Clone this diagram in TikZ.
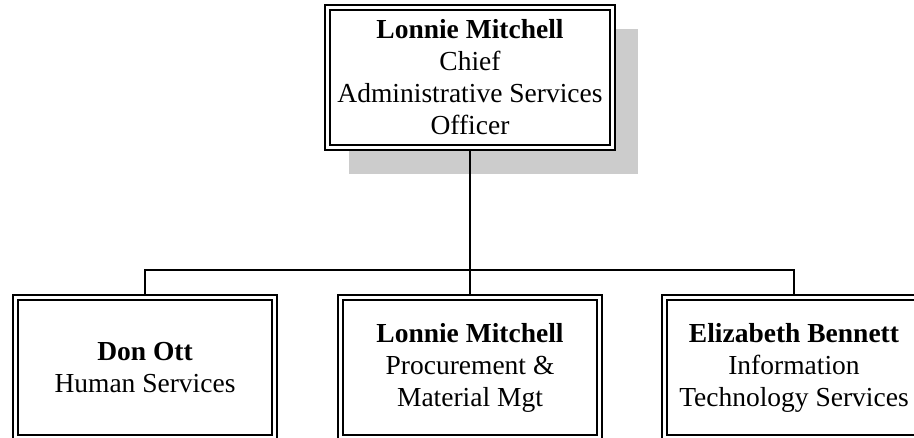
\documentclass[tikz,border=0pt]{standalone}
\usepackage{fontspec}
\setmainfont{Liberation Serif}
\begin{document}
\begin{tikzpicture}[x=1pt,y=-1pt,
  box/.style={draw, line width=1.6pt, double, double distance=3.4pt, fill=white,
    align=center, inner sep=0pt, outer sep=3.3pt,
    font=\fontsize{27.5}{32}\selectfont},
  topbox/.style={box, minimum width=285pt, minimum height=140pt},
  subbox/.style={box, minimum width=259pt, minimum height=140pt},
  wire/.style={line width=1.8pt},
  shade/.style={fill=black!20}]
\useasboundingbox (0,0) rectangle (914,437);
\clip (0,0) rectangle (914,437);
\fill[shade] (349,29) rectangle (638,174);
\node[topbox] (top) at (470,77.5) {\textbf{Lonnie Mitchell}\\Chief\\Administrative Services\\Officer};
\node[subbox] (b1) at (145,367.5) {\textbf{Don Ott}\\Human Services};
\node[subbox] (b2) at (470,367.5) {\textbf{Lonnie Mitchell}\\Procurement \&\\Material Mgt};
\node[subbox] (b3) at (794,367.5) {\textbf{Elizabeth Bennett}\\Information\\Technology Services};
\coordinate (bus) at (470,270);
\draw[wire] (top.south) -- (top.south |- bus);
\draw[wire] (b1.north) -- (b1.north |- bus) -- (b3.north |- bus) -- (b3.north);
\draw[wire] (b2.north) -- (b2.north |- bus);
\end{tikzpicture}
\end{document}
